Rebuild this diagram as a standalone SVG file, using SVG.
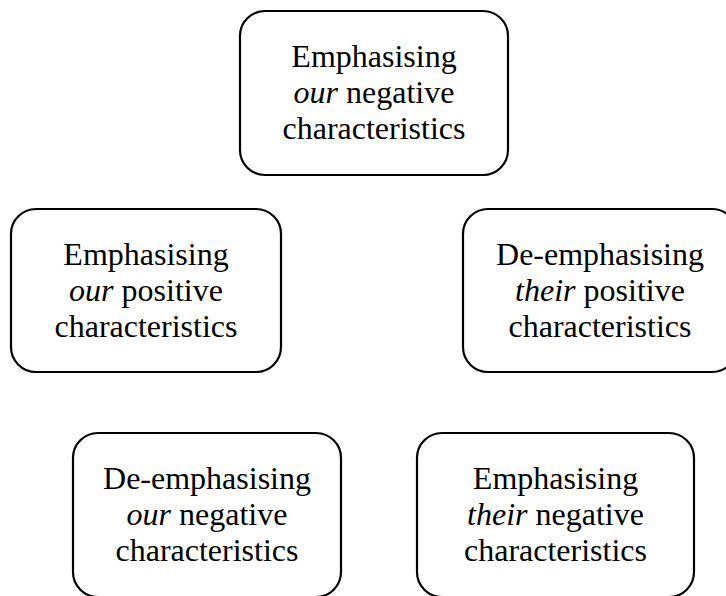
<svg xmlns="http://www.w3.org/2000/svg" width="726" height="596" viewBox="0 0 726 596">
<style>
.box{fill:#fff;stroke:#000;stroke-width:2.2}
.t{font-family:"Liberation Serif","Times New Roman",serif;font-size:32px;fill:#000;text-anchor:middle}
.i{font-style:italic}
</style>
<rect width="726" height="596" fill="#fff"/>
<g id="connectors"/>
<g id="n1">
<rect class="box" x="240" y="11" width="268" height="164" rx="25" ry="25"/>
<text class="t" x="374" y="67">Emphasising</text>
<text class="t" x="374" y="103"><tspan class="i">our</tspan> negative</text>
<text class="t" x="374" y="139">characteristics</text>
</g>
<g id="n2">
<rect class="box" x="11" y="209" width="270" height="163" rx="25" ry="25"/>
<text class="t" x="146" y="265">Emphasising</text>
<text class="t" x="146" y="301"><tspan class="i">our</tspan> positive</text>
<text class="t" x="146" y="337">characteristics</text>
</g>
<g id="n3">
<rect class="box" x="463" y="209" width="274" height="163" rx="25" ry="25"/>
<text class="t" x="600" y="265">De-emphasising</text>
<text class="t" x="600" y="301"><tspan class="i">their</tspan> positive</text>
<text class="t" x="600" y="337">characteristics</text>
</g>
<g id="n4">
<rect class="box" x="73" y="433" width="268" height="164" rx="25" ry="25"/>
<text class="t" x="207" y="489">De-emphasising</text>
<text class="t" x="207" y="525"><tspan class="i">our</tspan> negative</text>
<text class="t" x="207" y="561">characteristics</text>
</g>
<g id="n5">
<rect class="box" x="417" y="433" width="277" height="164" rx="25" ry="25"/>
<text class="t" x="555.5" y="489">Emphasising</text>
<text class="t" x="555.5" y="525"><tspan class="i">their</tspan> negative</text>
<text class="t" x="555.5" y="561">characteristics</text>
</g>
</svg>
